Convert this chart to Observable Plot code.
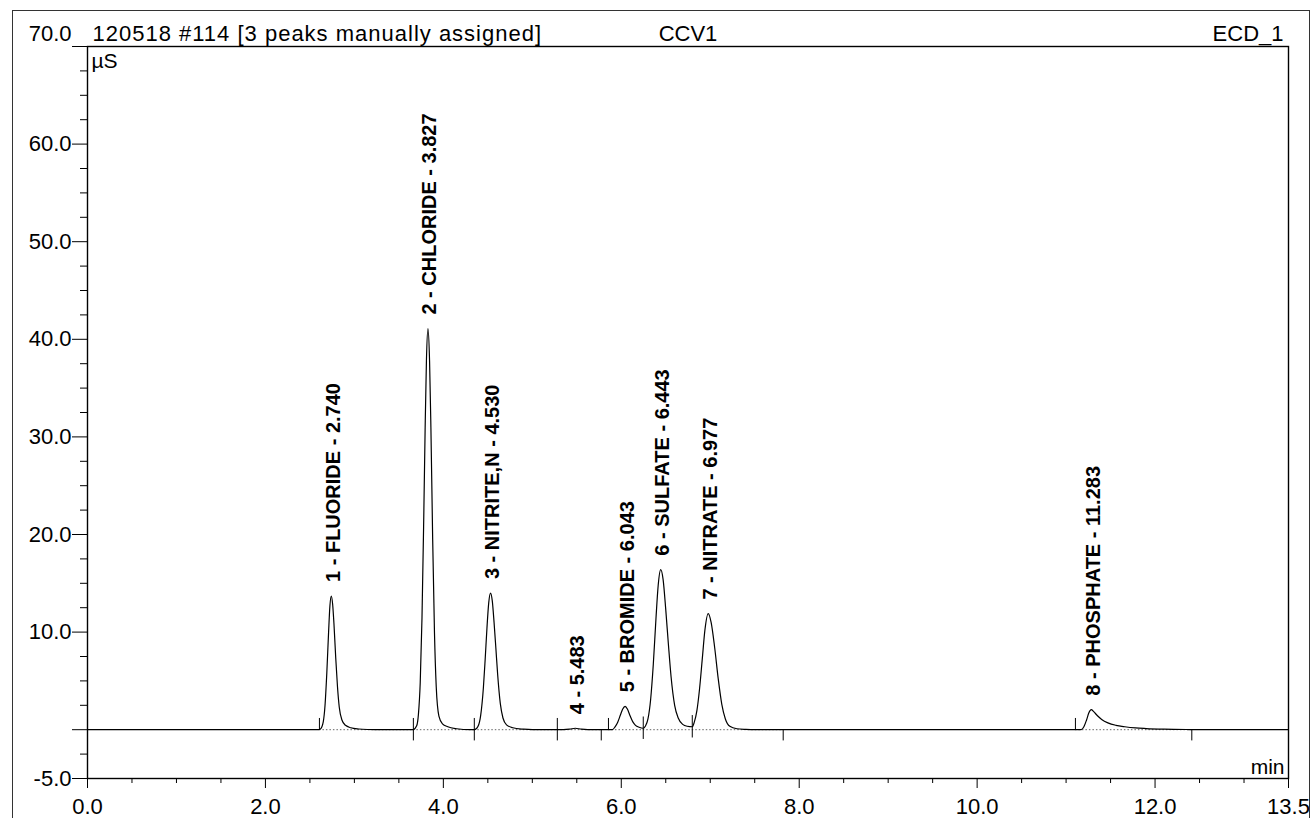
<!DOCTYPE html>
<html>
<head>
<meta charset="utf-8">
<script src="https://cdn.jsdelivr.net/npm/d3@7"></script>
<script src="https://cdn.jsdelivr.net/npm/@observablehq/plot@0.6"></script>
<style>
  body { margin: 0; background: #fff; }
  #chart { position: relative; width: 1312px; height: 818px; overflow: hidden; }
  #chart .sheet { position: absolute; left: 12px; top: 10px; width: 1296px; height: 840px;
                  border: 1px solid #333; pointer-events: none; z-index: 2; }
  #chart svg { font-family: "Liberation Sans", Arial, sans-serif; }
</style>
</head>
<body>
<div id="chart"><div class="sheet"></div></div>
<script>
// Run header
const headerLeft = "120518 #114 [3 peaks manually assigned]";
const headerCenter = "CCV1";
const headerRight = "ECD_1";
const yUnit = "µS";
const xUnit = "min";

// Identified peaks
const peakNumbers = [1, 2, 3, 4, 5, 6, 7, 8];
const peakNames = ["FLUORIDE", "CHLORIDE", "NITRITE,N", "", "BROMIDE", "SULFATE", "NITRATE", "PHOSPHATE"];
const retentionTimes = [2.740, 3.827, 4.530, 5.483, 6.043, 6.443, 6.977, 11.283];
const peakHeights = [13.7, 41.1, 14.0, 0.15, 2.4, 16.4, 11.9, 2.05];

// Detector trace (time in min, conductivity in µS)
const traceTime = [
  0, 2.60, 2.62, 2.65, 2.67, 2.69, 2.71, 2.725, 2.74, 2.755, 2.77, 2.79, 2.81, 2.83, 2.86, 2.90, 2.96, 3.05, 3.15, 3.30,
  3.66, 3.70, 3.72, 3.74, 3.76, 3.78, 3.795, 3.81, 3.827, 3.845, 3.86, 3.88, 3.90, 3.92, 3.95, 3.99, 4.05, 4.15, 4.30,
  4.35, 4.39, 4.42, 4.45, 4.47, 4.49, 4.51, 4.53, 4.55, 4.57, 4.59, 4.61, 4.64, 4.67, 4.71, 4.78, 4.90, 5.00,
  5.35, 5.42, 5.483, 5.55, 5.62,
  5.90, 5.93, 5.96, 5.99, 6.015, 6.043, 6.07, 6.10, 6.13, 6.16, 6.20, 6.247,
  6.27, 6.30, 6.33, 6.36, 6.39, 6.415, 6.443, 6.47, 6.50, 6.53, 6.56, 6.60, 6.64, 6.69, 6.74, 6.798,
  6.82, 6.85, 6.88, 6.91, 6.94, 6.977, 7.01, 7.05, 7.09, 7.13, 7.17, 7.22, 7.30, 7.40, 7.50,
  11.17, 11.20, 11.23, 11.255, 11.283, 11.31, 11.35, 11.40, 11.47, 11.56, 11.66, 11.78, 11.90, 12.10, 12.35, 12.45,
  13.5
];
const traceSignal = [
  0, 0, 0.09, 0.8, 2.5, 5.8, 10.0, 12.7, 13.7, 12.9, 10.9, 7.4, 4.4, 2.3, 1.0, 0.45, 0.2, 0.07, 0.02, 0,
  0, 0.4, 1.6, 4.8, 11.5, 21.9, 30.7, 37.9, 41.1, 37.8, 31.0, 19.5, 10.0, 4.4, 1.4, 0.6, 0.3, 0.1, 0,
  0, 0.35, 1.5, 4.3, 7.2, 10.4, 13.0, 14.0, 13.2, 11.0, 8.4, 5.7, 2.7, 1.2, 0.5, 0.2, 0.05, 0,
  0, 0.05, 0.15, 0.05, 0,
  0, 0.29, 0.77, 1.5, 2.1, 2.4, 2.1, 1.4, 0.8, 0.45, 0.25, 0.15,
  0.35, 1.1, 3.1, 6.7, 11.4, 14.8, 16.4, 15.4, 12.3, 8.7, 5.4, 2.5, 1.2, 0.55, 0.35, 0.3,
  0.75, 1.96, 4.2, 7.2, 10.2, 11.9, 11.0, 8.4, 5.2, 2.6, 1.1, 0.35, 0.1, 0.03, 0,
  0, 0.3, 1.0, 1.7, 2.05, 1.85, 1.45, 1.05, 0.7, 0.45, 0.3, 0.18, 0.12, 0.06, 0.02, 0,
  0
];

// Integration delimiters on the baseline
const markerTimes = [2.607, 3.663, 4.348, 5.281, 5.775, 5.856, 6.247, 6.798, 7.82, 11.105, 12.413];
const markerKinds = ["up", "cross", "cross", "cross", "down", "up", "cross", "cross", "down", "up", "down"];
const markerLevels = [0, 0, 0, 0, 0, 0, 0.15, 0.3, 0, 0, 0];

// Integration baselines (start, end in min)
const windowStart = [2.607, 3.663, 4.348, 5.281, 5.856, 6.247, 6.798, 11.105];
const windowEnd = [3.663, 4.348, 5.281, 5.775, 6.247, 6.798, 7.82, 12.413];

// Axis ticks
const xMajorTicks = [0, 2, 4, 6, 8, 10, 12, 13.5];
const xMinorTicks = [0.5, 1, 1.5, 2.5, 3, 3.5, 4.5, 5, 5.5, 6.5, 7, 7.5, 8.5, 9, 9.5, 10.5, 11, 11.5, 12.5, 13];
const yLabelTicks = [60, 50, 40, 30, 20, 10, -5];
const yTopTick = [70];
const yZeroTick = [0];
const yMinorTicks = [-2.5, 2.5, 5, 7.5, 12.5, 15, 17.5, 22.5, 25, 27.5, 32.5, 35, 37.5, 42.5, 45, 47.5, 52.5, 55, 57.5, 62.5, 65, 67.5];

// Tables built from the arrays above
const trace = traceTime.map((t, i) => ({t, v: traceSignal[i]}));
const peaks = peakNumbers.map((n, i) => ({
  rt: retentionTimes[i],
  height: peakHeights[i],
  label: peakNames[i] ? `${n} - ${peakNames[i]} - ${retentionTimes[i].toFixed(3)}` : `${n} - ${retentionTimes[i].toFixed(3)}`
}));
const extent = {up: [0, 1.15], down: [-1.15, 0], cross: [-1.15, 1.15]};
const markers = markerTimes.map((t, i) => ({t, lo: markerLevels[i] + extent[markerKinds[i]][0], hi: markerLevels[i] + extent[markerKinds[i]][1]}));
const windows = windowStart.map((s, i) => ({start: s, end: windowEnd[i]}));
const fmt1 = d => d.toFixed(1);
const blank = () => "";

const chart = Plot.plot({
  width: 1312,
  height: 818,
  marginLeft: 87,
  marginRight: 24,
  marginTop: 46,
  marginBottom: 40,
  x: {domain: [0, 13.5], label: null},
  y: {domain: [-5, 70], label: null},
  style: {fontFamily: '"Liberation Sans", Arial, sans-serif', fontSize: "22px", color: "#000", background: "#fff", overflow: "visible"},
  marks: [
    // axes
    Plot.axisX(xMinorTicks, {tickSize: 5, tickFormat: blank}),
    Plot.axisX(xMajorTicks, {tickSize: 10, tickPadding: 10, tickFormat: fmt1, fontSize: 22}),
    Plot.axisY(yMinorTicks, {tickSize: 7, tickFormat: blank}),
    Plot.axisY(yZeroTick, {tickSize: 15, tickFormat: blank}),
    Plot.axisY(yLabelTicks, {tickSize: 15, tickPadding: 1, tickFormat: fmt1, fontSize: 22}),
    Plot.axisY(yTopTick, {tickSize: 15, tickFormat: blank}),
    Plot.text(yTopTick, {y: d => d, text: fmt1, frameAnchor: "left", textAnchor: "end", dx: -16, dy: -13, fontSize: 22}),
    Plot.frame({stroke: "#000", strokeWidth: 1.4}),

    // integration baselines and delimiters
    Plot.ruleY(windows, {y: 0, x1: "start", x2: "end", stroke: "#666", strokeWidth: 1, strokeDasharray: "1.5,2"}),
    Plot.ruleX(markers, {x: "t", y1: "lo", y2: "hi", stroke: "#000", strokeWidth: 1}),

    // chromatogram
    Plot.line(trace, {x: "t", y: "v", stroke: "#000", strokeWidth: 1.2, curve: "monotone-x"}),

    // peak annotations
    Plot.text(peaks, {x: "rt", y: "height", text: "label", rotate: -90, textAnchor: "start", lineAnchor: "middle",
                      dy: -14, dx: 2, fontSize: 20, fontWeight: "bold", fill: "#000"}),

    // header and units
    Plot.text([headerLeft], {text: d => d, frameAnchor: "top-left", textAnchor: "start", lineAnchor: "bottom", dx: 5, dy: -6, fontSize: 22}),
    Plot.text([headerCenter], {text: d => d, frameAnchor: "top", lineAnchor: "bottom", dy: -6, fontSize: 22}),
    Plot.text([headerRight], {text: d => d, frameAnchor: "top-right", textAnchor: "end", lineAnchor: "bottom", dx: -5, dy: -6, fontSize: 22}),
    Plot.text([yUnit], {text: d => d, frameAnchor: "top-left", textAnchor: "start", lineAnchor: "top", dx: 4, dy: 7, fontSize: 21}),
    Plot.text([xUnit], {text: d => d, frameAnchor: "bottom-right", textAnchor: "end", lineAnchor: "bottom", dx: -4, dy: -5, fontSize: 21})
  ]
});

d3.select(chart).selectAll("text")
  .filter(function () { return this.textContent === headerLeft; })
  .style("letter-spacing", "1px");

document.getElementById("chart").appendChild(chart);
</script>
</body>
</html>
